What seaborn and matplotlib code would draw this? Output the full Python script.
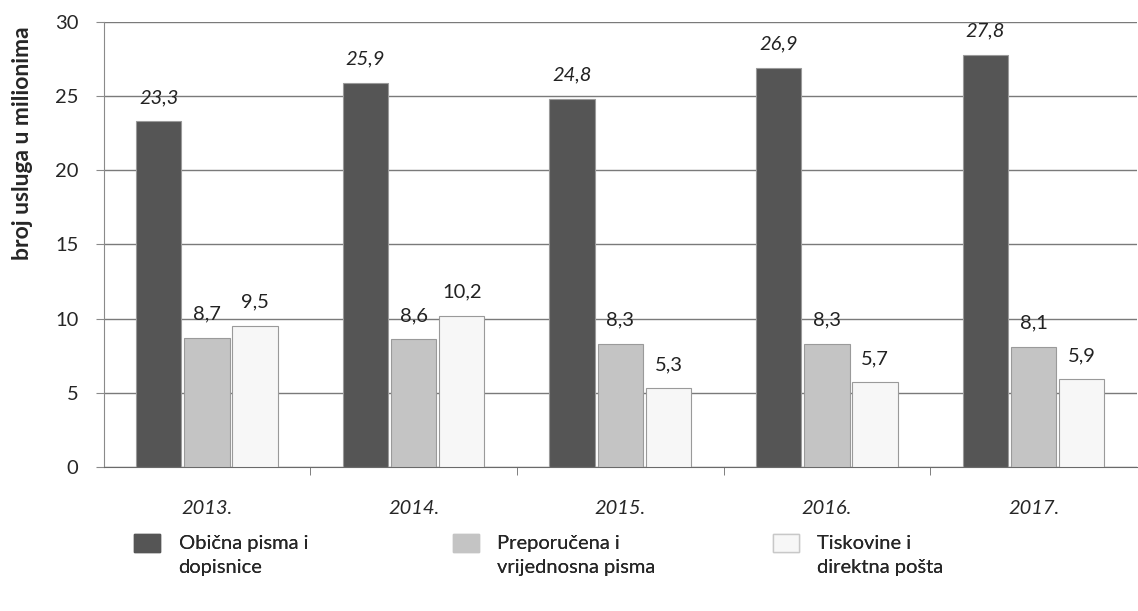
import pandas as pd
import matplotlib.pyplot as plt
import seaborn as sns
from matplotlib.patches import Patch, Rectangle
from matplotlib.legend_handler import HandlerPatch

years = ["2013.", "2014.", "2015.", "2016.", "2017."]
series = ["Obična pisma i\ndopisnice", "Preporučena i\nvrijednosna pisma", "Tiskovine i\ndirektna pošta"]
obicna = [23.3, 25.9, 24.8, 26.9, 27.8]
preporucena = [8.7, 8.6, 8.3, 8.3, 8.1]
tiskovine = [9.5, 10.2, 5.3, 5.7, 5.9]

df = pd.DataFrame({
    "godina": years * 3,
    "vrsta": [series[0]] * 5 + [series[1]] * 5 + [series[2]] * 5,
    "broj": obicna + preporucena + tiskovine,
})

sns.set_style("white")
plt.rcParams['font.family'] = ['Lato', 'DejaVu Sans']

fig = plt.figure(figsize=(11.38, 6.11), dpi=100)
ax = fig.add_axes([0.091, 0.236, 0.908, 0.728])

colors = ["#555555", "#c4c4c4", "#f7f7f7"]
sns.barplot(data=df, x="godina", y="broj", hue="vrsta", palette=colors,
            width=0.7, gap=0.06, edgecolor="#9a9a9a", linewidth=0.8,
            legend=False, ax=ax, zorder=3)

# value labels, dark series italic
for i, cont in enumerate(ax.containers):
    labs = [f"{v:.1f}".replace(".", ",") for v in cont.datavalues]
    ax.bar_label(cont, labels=labs, padding=11, fontsize=14.5,
                 fontstyle="italic" if i == 0 else "normal", color="#222222")

ax.set_ylim(0, 30)
ax.set_xlim(-0.5, 4.5)
ax.set_yticks(range(0, 31, 5))
ax.yaxis.grid(True, color="#7a7a7a", linewidth=1.0, zorder=0)
ax.set_axisbelow(True)
for s in ["top", "right"]:
    ax.spines[s].set_visible(False)
ax.spines["left"].set_color("#8a8a8a")
ax.spines["bottom"].set_color("#6a6a6a")

ax.set_xticks([0.5, 1.5, 2.5, 3.5], minor=True)
ax.tick_params(axis="x", which="minor", length=6, color="#6a6a6a", direction="out", bottom=True)
ax.tick_params(axis="x", which="major", length=0, pad=24, labelsize=14.5)
ax.tick_params(axis="y", length=6, color="#8a8a8a", direction="out", left=True, labelsize=14.5, pad=12)
for t in ax.get_xticklabels():
    t.set_fontstyle("italic")

ax.set_xlabel("")
ax.set_ylabel("broj usluga u milionima", fontsize=16.5, fontweight="bold")
ax.yaxis.set_label_coords(-0.068, 0.728)


# legend swatch sits next to the first line of the label
def top_patch(legend, orig_handle, xdescent, ydescent, width, height, fontsize):
    return Rectangle((-xdescent, -ydescent + 0.65 * fontsize), width, height)


leg_x = [0.118, 0.398, 0.679]
for j, c in enumerate(colors):
    h = Patch(facecolor=c, edgecolor="#c8c8c8" if j == 2 else c)
    leg = fig.legend([h], [series[j]], loc="upper left", bbox_to_anchor=(leg_x[j], 0.124),
                     frameon=False, fontsize=14.5, handlelength=1.3, handleheight=1.0,
                     handletextpad=0.9, borderaxespad=0, borderpad=0,
                     handler_map={Patch: HandlerPatch(patch_func=top_patch)})
    for t in leg.get_texts():
        t.set_linespacing(1.5)
    fig.add_artist(leg)

fig.savefig("out.png", dpi=100)
